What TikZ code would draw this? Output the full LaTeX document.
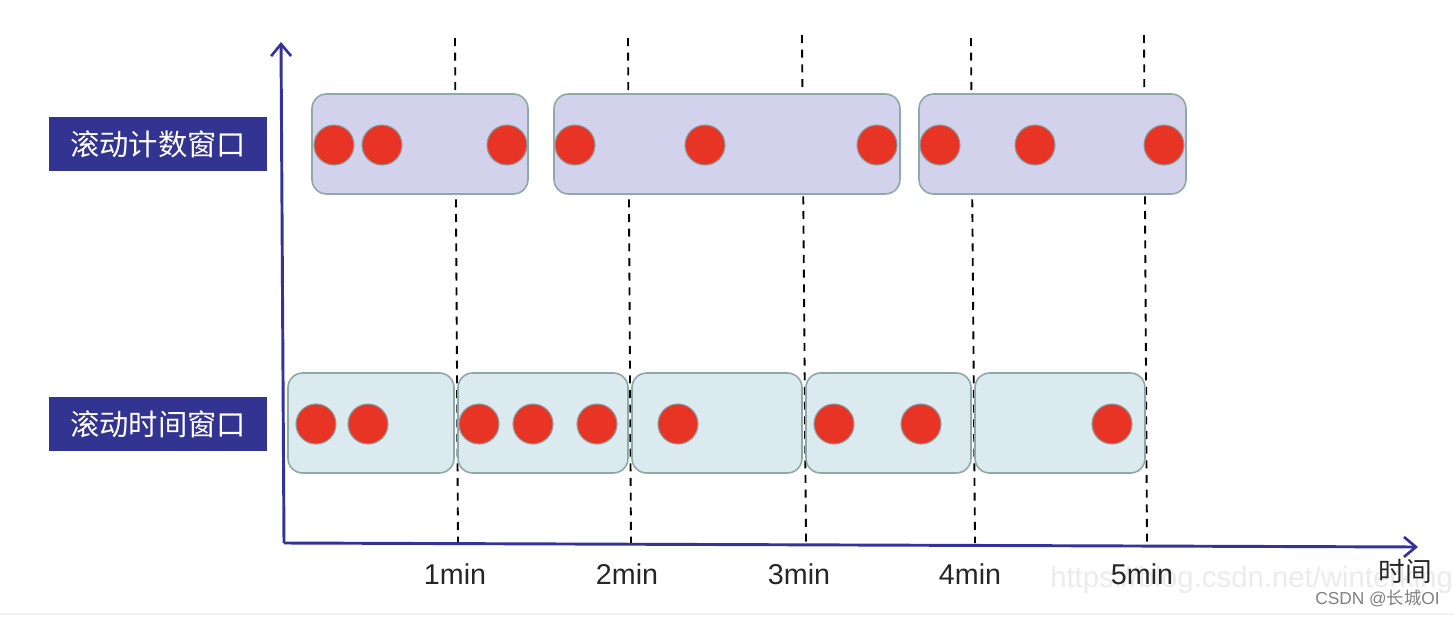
\documentclass[tikz,border=0pt]{standalone}
\usepackage{fontspec}
\setmainfont{Liberation Sans}
\newfontfamily\cjk{Noto Sans CJK SC}
\usetikzlibrary{arrows.meta}
\definecolor{axisblue}{HTML}{333399}
\definecolor{labelblue}{HTML}{333391}
\definecolor{countfill}{HTML}{D2D2EC}
\definecolor{timefill}{HTML}{DBEAEE}
\definecolor{boxedge}{HTML}{8FA8A8}
\definecolor{dotred}{HTML}{E83425}
\definecolor{dotedge}{HTML}{8A9C9C}
\tikzset{
  px/.style={x=0.75pt,y=-0.75pt},
  axisline/.style={draw=axisblue,line width=2.2pt,-{Straight Barb[length=9pt,width=15pt,line width=2pt]}},
  guide/.style={draw=black,line width=1.4pt,dash pattern=on 6pt off 5pt},
  winbox/.style={draw=boxedge,line width=1.2pt,rounded corners=11pt,minimum height=75pt,inner sep=0pt},
  countbox/.style={winbox,fill=countfill},
  timebox/.style={winbox,fill=timefill},
  dot/.style={circle,fill=dotred,draw=dotedge,line width=0.8pt,minimum size=30pt,inner sep=0pt},
  tag/.style={fill=labelblue,text=white,minimum width=163.5pt,minimum height=40.5pt,inner sep=0pt,font=\cjk\fontsize{22}{26}\selectfont},
  ticklabel/.style={font=\fontsize{21.5}{25}\selectfont,text=black!85},
}
\begin{document}
\begin{tikzpicture}[px]
\useasboundingbox (0,0) rectangle (1454,618);
% faint table line at bottom
\draw[color=blue!6,line width=1pt] (0,614) -- (1454,614);
% watermark
\node[anchor=west,text=black!8,font=\fontsize{22}{26}\selectfont,inner sep=0pt] (wm) at (1050,580) {https://blog.csdn.net/winterking3};
% dashed guides (behind boxes)
\foreach \i/\xt/\yt/\xb in {1/455/38/458, 2/628/38/631, 3/802/35/806, 4/971/38/975, 5/1144/35/1147}{
  \coordinate (g\i t) at (\xt,\yt);
  \coordinate (g\i b) at (\xb,543);
  \draw[guide] (g\i t) -- (g\i b);
}
% axes
\coordinate (O) at (284,543);
\coordinate (Ytip) at (281,42);
\coordinate (Xtip) at (1418,547);
\draw[axisline] (O) -- (Ytip);
\draw[axisline] (O) -- (Xtip);
% labels
\node[tag] (lc) at (158,144) {滚动计数窗口};
\node[tag] (lt) at (158,424) {滚动时间窗口};
% count windows
\node[countbox,minimum width=162pt] (c1) at (420,144) {};
\node[countbox,minimum width=259.5pt] (c2) at (727,144) {};
\node[countbox,minimum width=200.25pt] (c3) at (1052.5,144) {};
% time windows
\node[timebox,minimum width=124.5pt] (t1) at (371,423) {};
\node[timebox,minimum width=127.5pt] (t2) at (543,423) {};
\node[timebox,minimum width=127.5pt] (t3) at (717,423) {};
\node[timebox,minimum width=123.75pt] (t4) at (888.5,423) {};
\node[timebox,minimum width=127.5pt] (t5) at (1060,423) {};
% count dots
\foreach \x [count=\k] in {334,382,507,575,705,877,940,1035,1164}
  \node[dot] (cd\k) at (\x,145) {};
% time dots
\foreach \x [count=\k] in {316,368,479,533,597,678,834,921,1112}
  \node[dot] (td\k) at (\x,424) {};
% tick labels
\node[ticklabel] (m1) at (455,574) {1min};
\node[ticklabel] (m2) at (627,574) {2min};
\node[ticklabel] (m3) at (799,574) {3min};
\node[ticklabel] (m4) at (970,574) {4min};
\node[ticklabel] (m5) at (1142,574) {5min};
\node[font=\cjk\fontsize{20}{24}\selectfont,text=black!85] (tl) at (1405,571) {时间};
% CSDN mark
\node[anchor=east,text=black!50,font=\fontsize{13}{15}\selectfont,inner sep=0pt] (csdn) at (1440,598) {CSDN @{\cjk 长城}OI};
\end{tikzpicture}
\end{document}
